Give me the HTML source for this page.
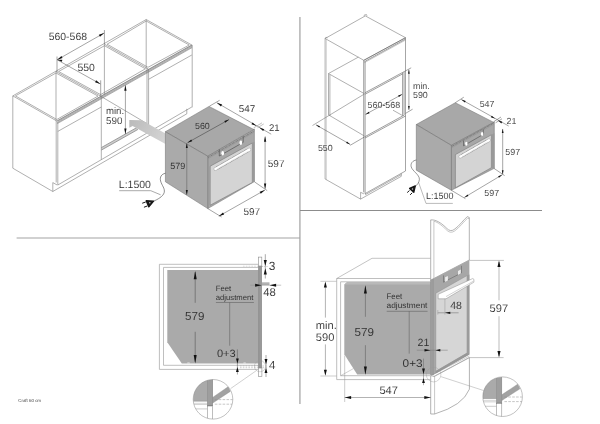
<!DOCTYPE html>
<html><head><meta charset="utf-8"><title>Oven installation</title>
<style>
html,body{margin:0;padding:0;background:#fff;}
body{width:600px;height:424px;overflow:hidden;font-family:"Liberation Sans",sans-serif;}
svg{display:block;filter:grayscale(1);}
svg text{font-family:"Liberation Sans",sans-serif;}
</style></head><body>
<svg width="600" height="424" viewBox="0 0 600 424" text-rendering="geometricPrecision">
<rect width="600" height="424" fill="#fff"/>
<line x1="299.90" y1="17.00" x2="299.90" y2="404.00" stroke="#b8b8b8" stroke-width="1.6" />
<line x1="16.60" y1="238.00" x2="300.00" y2="238.00" stroke="#a4a4a4" stroke-width="1.1" />
<line x1="300.00" y1="210.50" x2="542.00" y2="210.50" stroke="#8c8c8c" stroke-width="1.0" />
<g id="tl-cab">
<path d="M12.80,95.90 L146.20,19.50 L191.80,45.00 L56.80,121.00 Z" stroke="#7a7a7a" stroke-width="0.6" fill="none" stroke-linejoin="round" />
<path d="M15.40,95.90 L56.00,72.99 L98.00,96.10 L56.80,119.51 Z" stroke="#7a7a7a" stroke-width="0.6" fill="none" stroke-linejoin="round" />
<path d="M58.60,71.50 L104.50,45.69 L145.40,68.80 L100.60,94.61 Z" stroke="#7a7a7a" stroke-width="0.6" fill="none" stroke-linejoin="round" />
<path d="M107.10,44.20 L146.20,20.99 L189.20,45.00 L148.00,67.31 Z" stroke="#7a7a7a" stroke-width="0.6" fill="none" stroke-linejoin="round" />
<line x1="56.00" y1="71.50" x2="100.60" y2="96.10" stroke="#7a7a7a" stroke-width="0.6" />
<line x1="104.50" y1="44.20" x2="148.00" y2="68.80" stroke="#7a7a7a" stroke-width="0.6" />
<line x1="57.30" y1="121.00" x2="192.10" y2="45.00" stroke="#707070" stroke-width="0.55" />
<line x1="57.30" y1="121.90" x2="192.10" y2="45.90" stroke="#707070" stroke-width="0.55" />
<line x1="57.30" y1="122.80" x2="192.10" y2="46.80" stroke="#707070" stroke-width="0.55" />
<line x1="57.30" y1="123.60" x2="192.10" y2="47.60" stroke="#707070" stroke-width="0.55" />
<line x1="12.80" y1="95.90" x2="12.80" y2="168.20" stroke="#7a7a7a" stroke-width="0.6" />
<line x1="56.20" y1="121.00" x2="56.20" y2="182.50" stroke="#7a7a7a" stroke-width="0.6" />
<line x1="57.80" y1="122.00" x2="57.80" y2="185.00" stroke="#7a7a7a" stroke-width="0.6" />
<line x1="56.00" y1="71.50" x2="56.00" y2="121.00" stroke="#7a7a7a" stroke-width="0.6" />
<line x1="101.30" y1="96.10" x2="101.30" y2="159.60" stroke="#7a7a7a" stroke-width="0.6" />
<line x1="104.40" y1="44.00" x2="104.40" y2="94.50" stroke="#7a7a7a" stroke-width="0.6" />
<line x1="147.00" y1="68.80" x2="147.00" y2="131.00" stroke="#7a7a7a" stroke-width="0.6" />
<line x1="148.60" y1="68.80" x2="148.60" y2="131.00" stroke="#7a7a7a" stroke-width="0.6" />
<line x1="146.20" y1="19.50" x2="146.20" y2="68.80" stroke="#7a7a7a" stroke-width="0.6" />
<line x1="192.20" y1="45.00" x2="192.20" y2="107.40" stroke="#7a7a7a" stroke-width="0.6" />
<path d="M12.80,168.20 L52.80,191.50 L52.80,182.60 L57.20,185.00" stroke="#7a7a7a" stroke-width="0.6" fill="none" stroke-linejoin="round" />
<line x1="57.80" y1="131.40" x2="101.30" y2="107.00" stroke="#7a7a7a" stroke-width="0.6" />
<line x1="148.60" y1="79.30" x2="191.80" y2="55.00" stroke="#7a7a7a" stroke-width="0.6" />
<line x1="57.80" y1="185.00" x2="191.80" y2="107.00" stroke="#7a7a7a" stroke-width="0.6" />
<line x1="52.80" y1="191.50" x2="186.80" y2="113.80" stroke="#7a7a7a" stroke-width="0.6" />
<line x1="186.80" y1="108.80" x2="186.80" y2="113.80" stroke="#7a7a7a" stroke-width="0.6" />
<line x1="101.30" y1="96.60" x2="147.00" y2="123.60" stroke="#7a7a7a" stroke-width="0.6" />
<line x1="101.50" y1="147.50" x2="138.00" y2="126.90" stroke="#6c6c6c" stroke-width="0.6" />
<line x1="101.50" y1="150.00" x2="138.00" y2="129.40" stroke="#6c6c6c" stroke-width="0.6" />
<line x1="101.90" y1="147.27" x2="101.90" y2="149.77" stroke="#7a7a7a" stroke-width="0.4" />
<line x1="102.90" y1="146.71" x2="102.90" y2="149.21" stroke="#7a7a7a" stroke-width="0.4" />
<line x1="103.90" y1="146.15" x2="103.90" y2="148.65" stroke="#7a7a7a" stroke-width="0.4" />
<line x1="104.90" y1="145.58" x2="104.90" y2="148.08" stroke="#7a7a7a" stroke-width="0.4" />
<line x1="105.90" y1="145.02" x2="105.90" y2="147.52" stroke="#7a7a7a" stroke-width="0.4" />
<line x1="106.90" y1="144.45" x2="106.90" y2="146.95" stroke="#7a7a7a" stroke-width="0.4" />
<line x1="107.90" y1="143.89" x2="107.90" y2="146.39" stroke="#7a7a7a" stroke-width="0.4" />
<line x1="108.90" y1="143.33" x2="108.90" y2="145.83" stroke="#7a7a7a" stroke-width="0.4" />
<line x1="109.90" y1="142.76" x2="109.90" y2="145.26" stroke="#7a7a7a" stroke-width="0.4" />
<line x1="110.90" y1="142.20" x2="110.90" y2="144.70" stroke="#7a7a7a" stroke-width="0.4" />
<line x1="111.90" y1="141.63" x2="111.90" y2="144.13" stroke="#7a7a7a" stroke-width="0.4" />
<line x1="112.90" y1="141.07" x2="112.90" y2="143.57" stroke="#7a7a7a" stroke-width="0.4" />
<line x1="113.90" y1="140.51" x2="113.90" y2="143.01" stroke="#7a7a7a" stroke-width="0.4" />
<line x1="114.90" y1="139.94" x2="114.90" y2="142.44" stroke="#7a7a7a" stroke-width="0.4" />
<line x1="115.90" y1="139.38" x2="115.90" y2="141.88" stroke="#7a7a7a" stroke-width="0.4" />
<line x1="116.90" y1="138.81" x2="116.90" y2="141.31" stroke="#7a7a7a" stroke-width="0.4" />
<line x1="117.90" y1="138.25" x2="117.90" y2="140.75" stroke="#7a7a7a" stroke-width="0.4" />
<line x1="118.90" y1="137.69" x2="118.90" y2="140.19" stroke="#7a7a7a" stroke-width="0.4" />
<line x1="119.90" y1="137.12" x2="119.90" y2="139.62" stroke="#7a7a7a" stroke-width="0.4" />
<line x1="120.90" y1="136.56" x2="120.90" y2="139.06" stroke="#7a7a7a" stroke-width="0.4" />
<line x1="121.90" y1="135.99" x2="121.90" y2="138.49" stroke="#7a7a7a" stroke-width="0.4" />
<line x1="122.90" y1="135.43" x2="122.90" y2="137.93" stroke="#7a7a7a" stroke-width="0.4" />
<line x1="123.90" y1="134.87" x2="123.90" y2="137.37" stroke="#7a7a7a" stroke-width="0.4" />
<line x1="124.90" y1="134.30" x2="124.90" y2="136.80" stroke="#7a7a7a" stroke-width="0.4" />
<line x1="125.90" y1="133.74" x2="125.90" y2="136.24" stroke="#7a7a7a" stroke-width="0.4" />
<line x1="126.90" y1="133.17" x2="126.90" y2="135.67" stroke="#7a7a7a" stroke-width="0.4" />
<line x1="127.90" y1="132.61" x2="127.90" y2="135.11" stroke="#7a7a7a" stroke-width="0.4" />
<line x1="128.90" y1="132.05" x2="128.90" y2="134.55" stroke="#7a7a7a" stroke-width="0.4" />
<line x1="129.90" y1="131.48" x2="129.90" y2="133.98" stroke="#7a7a7a" stroke-width="0.4" />
<line x1="130.90" y1="130.92" x2="130.90" y2="133.42" stroke="#7a7a7a" stroke-width="0.4" />
<line x1="131.90" y1="130.35" x2="131.90" y2="132.85" stroke="#7a7a7a" stroke-width="0.4" />
<line x1="132.90" y1="129.79" x2="132.90" y2="132.29" stroke="#7a7a7a" stroke-width="0.4" />
<line x1="133.90" y1="129.23" x2="133.90" y2="131.73" stroke="#7a7a7a" stroke-width="0.4" />
<line x1="134.90" y1="128.66" x2="134.90" y2="131.16" stroke="#7a7a7a" stroke-width="0.4" />
<line x1="135.90" y1="128.10" x2="135.90" y2="130.60" stroke="#7a7a7a" stroke-width="0.4" />
<line x1="136.90" y1="127.53" x2="136.90" y2="130.03" stroke="#7a7a7a" stroke-width="0.4" />
</g>
<line x1="57.00" y1="56.50" x2="57.00" y2="72.00" stroke="#4a4a4a" stroke-width="0.5" />
<line x1="104.40" y1="30.00" x2="104.40" y2="44.00" stroke="#4a4a4a" stroke-width="0.5" />
<line x1="57.20" y1="59.80" x2="104.20" y2="33.00" stroke="#4a4a4a" stroke-width="0.5" />
<path d="M57.20,59.80 L61.41,56.08 L62.55,58.07 Z" fill="#111" stroke="none" stroke-width="0" stroke-linejoin="round"/>
<path d="M104.20,33.00 L99.99,36.72 L98.85,34.73 Z" fill="#111" stroke="none" stroke-width="0" stroke-linejoin="round"/>
<line x1="100.70" y1="80.30" x2="100.70" y2="96.20" stroke="#4a4a4a" stroke-width="0.5" />
<line x1="57.20" y1="59.80" x2="100.40" y2="84.00" stroke="#4a4a4a" stroke-width="0.5" />
<path d="M100.40,84.00 L95.04,82.32 L96.16,80.31 Z" fill="#111" stroke="none" stroke-width="0" stroke-linejoin="round"/>
<path d="M57.20,59.80 L62.32,59.70 L61.89,61.86 Z" fill="#111" stroke="none" stroke-width="0" stroke-linejoin="round"/>
<text x="48.70" y="39.60" font-size="10.45" text-anchor="start" fill="#2a2a2a" stroke="#fff" stroke-width="0.08" >560-568</text>
<text x="77.50" y="70.80" font-size="10.45" text-anchor="start" fill="#2a2a2a" stroke="#fff" stroke-width="0.08" >550</text>
<line x1="125.40" y1="85.20" x2="125.40" y2="134.00" stroke="#4a4a4a" stroke-width="0.5" />
<path d="M125.40,85.20 L126.55,90.70 L124.25,90.70 Z" fill="#111" stroke="none" stroke-width="0" stroke-linejoin="round"/>
<path d="M125.40,134.00 L124.25,128.50 L126.55,128.50 Z" fill="#111" stroke="none" stroke-width="0" stroke-linejoin="round"/>
<text x="106.00" y="114.40" font-size="9.6" text-anchor="start" fill="#2a2a2a" stroke="#fff" stroke-width="0.08" >min.</text>
<text x="106.00" y="123.80" font-size="9.8" text-anchor="start" fill="#2a2a2a" stroke="#fff" stroke-width="0.08" >590</text>
<defs><linearGradient id="ag" gradientUnits="userSpaceOnUse" x1="129" y1="120" x2="165" y2="140"><stop offset="0" stop-color="#bababa"/><stop offset="1" stop-color="#d4d4d4"/></linearGradient></defs>
<path d="M129.30,119.90 L141.60,120.30 L165.50,133.40 L165.50,143.90 L132.60,126.10 L129.30,127.80 Z" fill="url(#ag)" stroke="none" stroke-width="0" stroke-linejoin="round"/>
<path d="M165.40,131.70 L209.00,106.40 L253.40,129.30 L207.80,156.20 Z" fill="#a8a8a9" stroke="none" stroke-width="0" stroke-linejoin="round"/>
<path d="M165.40,131.70 L207.80,156.20 L207.80,208.60 L165.40,181.80 Z" fill="#aaaaab" stroke="none" stroke-width="0" stroke-linejoin="round"/>
<path d="M207.80,156.20 L254.40,129.00 L254.40,181.60 L207.80,208.60 Z" fill="#a7a7a7" stroke="none" stroke-width="0" stroke-linejoin="round"/>
<path d="M165.40,131.70 L209.00,106.40 L253.40,129.30" stroke="#6a6a6a" stroke-width="0.5" fill="none" stroke-linejoin="round" />
<path d="M165.40,131.70 L207.80,156.20 L254.40,129.00" stroke="#5e5e5e" stroke-width="0.6" fill="none" stroke-linejoin="round" />
<line x1="207.80" y1="156.20" x2="207.80" y2="208.60" stroke="#5e5e5e" stroke-width="0.6" />
<path d="M165.40,131.50 L165.40,181.80 L207.80,208.60 L254.40,181.60 L254.40,129.00" stroke="#6a6a6a" stroke-width="0.5" fill="none" stroke-linejoin="round" />
<line x1="208.20" y1="157.40" x2="254.20" y2="131.00" stroke="#666" stroke-width="0.9" stroke-dasharray="0.9,0.7"/>
<line x1="208.20" y1="158.60" x2="254.20" y2="132.20" stroke="#888" stroke-width="0.4" />
<path d="M219.30,149.40 L219.30,156.00 L243.20,142.40 L243.20,136.20" stroke="#555" stroke-width="0.7" fill="none" stroke-linejoin="round" />
<ellipse cx="222.7" cy="153.3" rx="1.35" ry="2.2" fill="#fff"/>
<ellipse cx="240.8" cy="142.8" rx="1.35" ry="2.2" fill="#fff"/>
<path d="M210.20,166.20 L252.30,143.00 L252.30,182.50 L210.20,205.20 Z" fill="#d4d4d4" stroke="#777" stroke-width="0.6" stroke-linejoin="round"/>
<path d="M215.40,169.00 L249.30,149.60" stroke="#b4b4b4" stroke-width="3.7" fill="none" stroke-linejoin="round" stroke-linecap="round"/>
<path d="M217.00,168.10 L247.70,150.50" stroke="#808080" stroke-width="3.5" fill="none" stroke-linejoin="round" stroke-dasharray="0.7,0.7"/>
<path d="M215.40,169.00 L249.30,149.60" stroke="#fff" stroke-width="2.5" fill="none" stroke-linejoin="round" stroke-linecap="round"/>
<path d="M252.30,143.00 L254.40,141.80 L254.40,181.60 L252.30,182.50 Z" fill="#999" stroke="none" stroke-width="0" stroke-linejoin="round"/>
<path d="M217.60,168.60 L247.40,151.60" stroke="#b5b5b5" stroke-width="0.5" fill="none" stroke-linejoin="round" stroke-dasharray="0.7,0.7"/>
<line x1="187.50" y1="142.70" x2="229.00" y2="119.60" stroke="#333" stroke-width="0.5" />
<path d="M187.50,142.70 L191.20,139.48 L192.18,141.23 Z" fill="#111" stroke="none" stroke-width="0" stroke-linejoin="round"/>
<path d="M229.00,119.60 L225.30,122.82 L224.32,121.07 Z" fill="#111" stroke="none" stroke-width="0" stroke-linejoin="round"/>
<line x1="186.80" y1="143.30" x2="186.80" y2="194.90" stroke="#444" stroke-width="0.4" />
<path d="M186.80,143.30 L187.80,148.10 L185.80,148.10 Z" fill="#111" stroke="none" stroke-width="0" stroke-linejoin="round"/>
<path d="M186.80,194.90 L185.80,190.10 L187.80,190.10 Z" fill="#111" stroke="none" stroke-width="0" stroke-linejoin="round"/>
<text x="195.00" y="129.30" font-size="8.9" text-anchor="start" fill="#2a2a2a" stroke="#a8a8a9" stroke-width="0.08" >560</text>
<text x="170.30" y="169.20" font-size="9.0" text-anchor="start" fill="#2a2a2a" stroke="#aaaaab" stroke-width="0.08" >579</text>
<line x1="209.40" y1="106.20" x2="219.60" y2="100.30" stroke="#4a4a4a" stroke-width="0.5" />
<line x1="216.80" y1="102.70" x2="271.20" y2="134.20" stroke="#4a4a4a" stroke-width="0.5" />
<path d="M216.80,102.70 L222.13,104.46 L220.98,106.45 Z" fill="#111" stroke="none" stroke-width="0" stroke-linejoin="round"/>
<path d="M256.50,126.00 L251.45,124.34 L252.55,122.44 Z" fill="#111" stroke="none" stroke-width="0" stroke-linejoin="round"/>
<path d="M259.20,127.50 L264.25,129.16 L263.15,131.06 Z" fill="#111" stroke="none" stroke-width="0" stroke-linejoin="round"/>
<line x1="253.50" y1="128.00" x2="262.00" y2="122.80" stroke="#777" stroke-width="0.45" />
<line x1="257.50" y1="127.80" x2="263.80" y2="123.90" stroke="#777" stroke-width="0.45" />
<text x="238.70" y="111.50" font-size="9.9" text-anchor="start" fill="#2a2a2a" stroke="#fff" stroke-width="0.08" >547</text>
<text x="269.00" y="131.20" font-size="9.6" text-anchor="start" fill="#2a2a2a" stroke="#fff" stroke-width="0.08" >21</text>
<line x1="265.10" y1="136.60" x2="265.10" y2="188.60" stroke="#4a4a4a" stroke-width="0.5" />
<path d="M265.10,136.20 L266.25,141.70 L263.95,141.70 Z" fill="#111" stroke="none" stroke-width="0" stroke-linejoin="round"/>
<path d="M265.10,189.00 L263.95,183.50 L266.25,183.50 Z" fill="#111" stroke="none" stroke-width="0" stroke-linejoin="round"/>
<line x1="254.40" y1="181.80" x2="267.20" y2="190.60" stroke="#4a4a4a" stroke-width="0.5" />
<text x="267.80" y="166.90" font-size="10.0" text-anchor="start" fill="#2a2a2a" stroke="#fff" stroke-width="0.08" >597</text>
<line x1="207.80" y1="208.60" x2="221.60" y2="217.00" stroke="#4a4a4a" stroke-width="0.5" />
<line x1="218.80" y1="216.20" x2="265.00" y2="190.00" stroke="#4a4a4a" stroke-width="0.5" />
<path d="M218.80,216.20 L223.02,212.49 L224.15,214.49 Z" fill="#111" stroke="none" stroke-width="0" stroke-linejoin="round"/>
<path d="M265.00,190.00 L260.78,193.71 L259.65,191.71 Z" fill="#111" stroke="none" stroke-width="0" stroke-linejoin="round"/>
<text x="243.40" y="214.80" font-size="10.0" text-anchor="start" fill="#2a2a2a" stroke="#fff" stroke-width="0.08" >597</text>
<path d="M165.4,173.3 C161.5,174 159.6,177 160.6,181 C161.8,185.5 165.2,188.5 164.2,192.5 C163.2,196.5 157.5,199.5 153.5,201.2" fill="none" stroke="#333" stroke-width="0.55"/>
<path d="M153.60,201.20 L146.20,200.70 L148.80,206.90 Z" stroke="#151515" stroke-width="1.3" fill="#151515" stroke-linejoin="round" />
<line x1="145.40" y1="202.10" x2="142.60" y2="203.10" stroke="#151515" stroke-width="1.0" stroke-linecap="round"/>
<line x1="147.00" y1="206.10" x2="144.30" y2="207.10" stroke="#151515" stroke-width="1.0" stroke-linecap="round"/>
<circle cx="149.8" cy="202.8" r="0.75" fill="#ccc"/>
<text x="118.80" y="188.30" font-size="10.5" text-anchor="start" fill="#2a2a2a" stroke="#fff" stroke-width="0.08" >L:1500</text>
<path d="M119.20,190.70 L150.80,190.70 L160.60,194.80" stroke="#555" stroke-width="0.5" fill="none" stroke-linejoin="round" />
<g id="tr-cab">
<path d="M325.10,38.50 L365.30,15.90 L405.50,37.70 L363.80,60.30 Z" stroke="#7a7a7a" stroke-width="0.6" fill="none" stroke-linejoin="round" />
<path d="M325.00,38.60 L325.90,37.20 L327.60,37.90" stroke="#7a7a7a" stroke-width="0.5" fill="none" stroke-linejoin="round" />
<path d="M364.00,16.20 L364.50,14.80 L366.50,14.50 L367.00,16.00" stroke="#7a7a7a" stroke-width="0.5" fill="none" stroke-linejoin="round" />
<line x1="363.80" y1="60.30" x2="405.50" y2="37.70" stroke="#5e5e5e" stroke-width="0.6" />
<line x1="364.40" y1="61.70" x2="405.50" y2="39.10" stroke="#5e5e5e" stroke-width="0.6" />
<line x1="364.40" y1="62.70" x2="405.50" y2="40.10" stroke="#7a7a7a" stroke-width="0.4" />
<line x1="325.10" y1="38.50" x2="325.10" y2="179.00" stroke="#7a7a7a" stroke-width="0.6" />
<line x1="326.40" y1="39.30" x2="326.40" y2="179.80" stroke="#999" stroke-width="0.4" />
<line x1="363.70" y1="60.30" x2="363.70" y2="192.30" stroke="#5e5e5e" stroke-width="0.6" />
<line x1="365.10" y1="61.50" x2="365.10" y2="193.90" stroke="#5e5e5e" stroke-width="0.6" />
<line x1="405.50" y1="37.70" x2="405.50" y2="171.00" stroke="#6a6a6a" stroke-width="0.6" />
<line x1="328.20" y1="73.70" x2="358.40" y2="57.10" stroke="#7a7a7a" stroke-width="0.6" />
<line x1="328.50" y1="73.60" x2="328.50" y2="115.30" stroke="#7a7a7a" stroke-width="0.6" />
<line x1="329.90" y1="74.50" x2="329.90" y2="116.00" stroke="#7a7a7a" stroke-width="0.6" />
<line x1="328.90" y1="73.80" x2="364.40" y2="93.70" stroke="#7a7a7a" stroke-width="0.6" />
<line x1="328.90" y1="115.10" x2="364.40" y2="136.00" stroke="#7a7a7a" stroke-width="0.6" />
<line x1="312.50" y1="125.50" x2="364.40" y2="94.00" stroke="#7a7a7a" stroke-width="0.6" />
<line x1="365.10" y1="92.70" x2="405.50" y2="70.90" stroke="#5e5e5e" stroke-width="0.6" />
<line x1="365.10" y1="94.20" x2="402.60" y2="73.90" stroke="#5e5e5e" stroke-width="0.6" />
<line x1="402.60" y1="73.00" x2="402.60" y2="115.60" stroke="#5e5e5e" stroke-width="0.6" />
<line x1="404.10" y1="72.00" x2="404.10" y2="114.80" stroke="#5e5e5e" stroke-width="0.6" />
<line x1="365.10" y1="136.60" x2="404.40" y2="115.00" stroke="#5e5e5e" stroke-width="0.6" />
<line x1="365.10" y1="138.00" x2="405.50" y2="116.00" stroke="#5e5e5e" stroke-width="0.6" />
<line x1="402.60" y1="115.60" x2="393.00" y2="110.20" stroke="#7a7a7a" stroke-width="0.6" />
<path d="M325.10,179.00 L360.60,199.10 L360.60,192.30 L363.90,193.90" stroke="#7a7a7a" stroke-width="0.6" fill="none" stroke-linejoin="round" />
<line x1="365.10" y1="193.60" x2="405.50" y2="171.00" stroke="#6a6a6a" stroke-width="0.6" />
<line x1="365.10" y1="194.80" x2="401.30" y2="174.60" stroke="#7a7a7a" stroke-width="0.6" />
<path d="M360.60,199.10 L401.30,176.30 L401.30,173.40" stroke="#7a7a7a" stroke-width="0.6" fill="none" stroke-linejoin="round" />
</g>
<line x1="365.50" y1="114.40" x2="402.20" y2="94.30" stroke="#4a4a4a" stroke-width="0.5" />
<path d="M365.50,114.40 L368.78,111.64 L369.59,113.13 Z" fill="#111" stroke="none" stroke-width="0" stroke-linejoin="round"/>
<path d="M402.20,94.30 L398.92,97.06 L398.11,95.57 Z" fill="#111" stroke="none" stroke-width="0" stroke-linejoin="round"/>
<text x="367.60" y="107.70" font-size="8.9" text-anchor="start" fill="#2a2a2a" stroke="#fff" stroke-width="0.08" >560-568</text>
<line x1="350.20" y1="145.30" x2="364.40" y2="137.00" stroke="#4a4a4a" stroke-width="0.5" />
<line x1="315.90" y1="124.80" x2="350.20" y2="144.40" stroke="#4a4a4a" stroke-width="0.5" />
<path d="M315.90,124.80 L319.97,126.15 L319.12,127.62 Z" fill="#111" stroke="none" stroke-width="0" stroke-linejoin="round"/>
<path d="M350.20,144.40 L346.13,143.05 L346.98,141.58 Z" fill="#111" stroke="none" stroke-width="0" stroke-linejoin="round"/>
<text x="317.90" y="151.20" font-size="8.9" text-anchor="start" fill="#2a2a2a" stroke="#fff" stroke-width="0.08" >550</text>
<line x1="408.90" y1="69.70" x2="408.90" y2="109.90" stroke="#4a4a4a" stroke-width="0.5" />
<path d="M408.90,69.50 L409.75,73.70 L408.05,73.70 Z" fill="#111" stroke="none" stroke-width="0" stroke-linejoin="round"/>
<path d="M408.90,110.10 L408.05,105.90 L409.75,105.90 Z" fill="#111" stroke="none" stroke-width="0" stroke-linejoin="round"/>
<line x1="405.50" y1="70.90" x2="411.20" y2="67.80" stroke="#4a4a4a" stroke-width="0.5" />
<line x1="405.50" y1="113.40" x2="412.60" y2="109.20" stroke="#4a4a4a" stroke-width="0.5" />
<text x="413.00" y="89.20" font-size="8.9" text-anchor="start" fill="#2a2a2a" stroke="#fff" stroke-width="0.08" >min.</text>
<text x="413.00" y="98.10" font-size="8.9" text-anchor="start" fill="#2a2a2a" stroke="#fff" stroke-width="0.08" >590</text>
<path d="M416.30,124.50 L455.30,102.70 L493.40,122.20 L451.40,145.30 Z" fill="#a8a8a9" stroke="none" stroke-width="0" stroke-linejoin="round"/>
<path d="M416.30,124.50 L451.40,145.30 L451.40,190.30 L416.30,170.20 Z" fill="#aaaaab" stroke="none" stroke-width="0" stroke-linejoin="round"/>
<path d="M451.40,145.30 L494.30,121.90 L494.30,168.30 L451.40,190.30 Z" fill="#a7a7a7" stroke="none" stroke-width="0" stroke-linejoin="round"/>
<path d="M416.30,124.50 L455.30,102.70 L493.40,122.20" stroke="#6a6a6a" stroke-width="0.5" fill="none" stroke-linejoin="round" />
<path d="M416.30,124.50 L451.40,145.30 L494.30,121.90" stroke="#5e5e5e" stroke-width="0.6" fill="none" stroke-linejoin="round" />
<line x1="451.40" y1="145.30" x2="451.40" y2="190.30" stroke="#5e5e5e" stroke-width="0.6" />
<path d="M416.30,124.50 L416.30,170.20 L451.40,190.30 L494.30,168.30 L494.30,121.90" stroke="#6a6a6a" stroke-width="0.5" fill="none" stroke-linejoin="round" />
<line x1="451.90" y1="146.40" x2="494.00" y2="122.90" stroke="#666" stroke-width="0.9" stroke-dasharray="0.9,0.7"/>
<line x1="451.90" y1="147.60" x2="494.00" y2="124.20" stroke="#888" stroke-width="0.4" />
<path d="M463.50,140.60 L463.50,145.80 L483.30,134.40 L483.30,129.30" stroke="#555" stroke-width="0.65" fill="none" stroke-linejoin="round" />
<ellipse cx="466.3" cy="143.7" rx="1.2" ry="2.0" fill="#fff"/>
<ellipse cx="482.1" cy="133.9" rx="1.2" ry="2.0" fill="#fff"/>
<path d="M455.40,154.60 L491.40,134.80 L491.40,167.70 L455.40,187.80 Z" fill="#d4d4d4" stroke="#777" stroke-width="0.6" stroke-linejoin="round"/>
<path d="M460.20,156.70 L489.00,140.20" stroke="#b4b4b4" stroke-width="3.4" fill="none" stroke-linejoin="round" stroke-linecap="round"/>
<path d="M461.80,155.80 L487.40,141.10" stroke="#808080" stroke-width="3.2" fill="none" stroke-linejoin="round" stroke-dasharray="0.7,0.7"/>
<path d="M460.20,156.70 L489.00,140.20" stroke="#fff" stroke-width="2.2" fill="none" stroke-linejoin="round" stroke-linecap="round"/>
<path d="M491.40,134.80 L494.30,133.20 L494.30,168.30 L491.40,167.70 Z" fill="#999" stroke="none" stroke-width="0" stroke-linejoin="round"/>
<path d="M462.40,156.30 L487.20,142.00" stroke="#b5b5b5" stroke-width="0.5" fill="none" stroke-linejoin="round" stroke-dasharray="0.7,0.7"/>
<line x1="455.30" y1="102.70" x2="463.80" y2="97.20" stroke="#4a4a4a" stroke-width="0.5" />
<line x1="461.30" y1="99.50" x2="508.70" y2="126.00" stroke="#4a4a4a" stroke-width="0.5" />
<path d="M461.30,99.50 L465.77,100.95 L464.83,102.60 Z" fill="#111" stroke="none" stroke-width="0" stroke-linejoin="round"/>
<path d="M495.30,118.80 L490.83,117.35 L491.77,115.70 Z" fill="#111" stroke="none" stroke-width="0" stroke-linejoin="round"/>
<path d="M497.80,120.30 L502.27,121.75 L501.33,123.40 Z" fill="#111" stroke="none" stroke-width="0" stroke-linejoin="round"/>
<line x1="493.60" y1="121.80" x2="501.00" y2="117.00" stroke="#4a4a4a" stroke-width="0.5" />
<line x1="495.60" y1="122.80" x2="502.00" y2="118.80" stroke="#4a4a4a" stroke-width="0.5" />
<text x="479.70" y="106.60" font-size="8.9" text-anchor="start" fill="#2a2a2a" stroke="#fff" stroke-width="0.08" >547</text>
<text x="506.50" y="124.10" font-size="8.9" text-anchor="start" fill="#2a2a2a" stroke="#fff" stroke-width="0.08" >21</text>
<line x1="502.70" y1="129.00" x2="502.70" y2="174.30" stroke="#4a4a4a" stroke-width="0.5" />
<path d="M502.70,128.80 L503.55,133.00 L501.85,133.00 Z" fill="#111" stroke="none" stroke-width="0" stroke-linejoin="round"/>
<path d="M502.70,174.50 L501.85,170.30 L503.55,170.30 Z" fill="#111" stroke="none" stroke-width="0" stroke-linejoin="round"/>
<text x="505.30" y="154.80" font-size="8.9" text-anchor="start" fill="#2a2a2a" stroke="#fff" stroke-width="0.08" >597</text>
<line x1="494.00" y1="168.40" x2="504.60" y2="175.60" stroke="#4a4a4a" stroke-width="0.5" />
<line x1="451.40" y1="190.30" x2="465.40" y2="198.70" stroke="#4a4a4a" stroke-width="0.5" />
<line x1="464.40" y1="197.40" x2="502.20" y2="174.80" stroke="#4a4a4a" stroke-width="0.5" />
<path d="M464.40,197.40 L467.57,194.52 L468.44,195.97 Z" fill="#111" stroke="none" stroke-width="0" stroke-linejoin="round"/>
<path d="M502.20,174.80 L499.03,177.68 L498.16,176.23 Z" fill="#111" stroke="none" stroke-width="0" stroke-linejoin="round"/>
<text x="484.30" y="196.40" font-size="8.9" text-anchor="start" fill="#2a2a2a" stroke="#fff" stroke-width="0.08" >597</text>
<path d="M416.3,160.0 C412.8,160.6 410.3,163.2 411.2,166.8 C412.4,171.2 419.6,174.6 419.4,179.4 C419.2,182.6 417,185 415.2,186.6" fill="none" stroke="#333" stroke-width="0.5"/>
<path d="M415.30,185.80 L409.60,188.40 L413.80,192.30 Z" stroke="#151515" stroke-width="1.3" fill="#151515" stroke-linejoin="round" />
<line x1="409.20" y1="190.80" x2="407.50" y2="192.30" stroke="#151515" stroke-width="1.0" stroke-linecap="round"/>
<line x1="411.90" y1="193.10" x2="410.40" y2="194.60" stroke="#151515" stroke-width="1.0" stroke-linecap="round"/>
<circle cx="412.5" cy="189.0" r="0.75" fill="#ccc"/>
<text x="426.00" y="199.40" font-size="9.0" text-anchor="start" fill="#2a2a2a" stroke="#fff" stroke-width="0.08" >L:1500</text>
<path d="M418.40,181.90 L426.00,203.40 L452.80,203.40" stroke="#777" stroke-width="0.5" fill="none" stroke-linejoin="round" />
<path d="M258.50,264.30 L159.40,264.30 L159.40,369.40 L258.40,369.40" stroke="#a4a4a4" stroke-width="0.7" fill="none" stroke-linejoin="round" />
<path d="M258.50,267.40 L163.50,267.40 L163.50,365.30 L258.40,365.30" stroke="#a4a4a4" stroke-width="0.7" fill="none" stroke-linejoin="round" />
<path d="M167.30,270.10 L258.60,270.10 L258.60,363.60 L181.80,363.60 L167.30,342.20 Z" fill="#aaaaab" stroke="none" stroke-width="0" stroke-linejoin="round"/>
<path d="M186.90,363.60 L187.50,362.60 L189.50,362.60 L190.10,363.60 Z" fill="#e8e8e8" stroke="none" stroke-width="0" stroke-linejoin="round"/>
<path d="M243.00,363.60 L243.60,362.60 L245.60,362.60 L246.20,363.60 Z" fill="#e8e8e8" stroke="none" stroke-width="0" stroke-linejoin="round"/>
<rect x="258.5" y="266.0" width="3.5" height="102.0" fill="#999"/>
<rect x="258.4" y="266.0" width="0.7" height="102.0" fill="#808080"/>
<rect x="258.6" y="257.1" width="3.2" height="8.9" fill="#fff" stroke="#8a8a8a" stroke-width="0.6"/>
<rect x="258.6" y="368.0" width="3.3" height="8.6" fill="#fff" stroke="#8a8a8a" stroke-width="0.6"/>
<rect x="262.0" y="282.3" width="7.5" height="2.9" fill="#b2b2b2"/>
<line x1="243.00" y1="266.20" x2="258.00" y2="266.20" stroke="#bbb" stroke-width="0.5" stroke-dasharray="1.6,1.2"/>
<line x1="195.20" y1="272.00" x2="195.20" y2="302.80" stroke="#444" stroke-width="0.5" />
<line x1="195.20" y1="331.80" x2="195.20" y2="362.00" stroke="#444" stroke-width="0.5" />
<path d="M195.20,270.90 L196.70,279.20 L193.70,279.20 Z" fill="#111" stroke="none" stroke-width="0" stroke-linejoin="round"/>
<path d="M195.20,363.40 L193.70,355.10 L196.70,355.10 Z" fill="#111" stroke="none" stroke-width="0" stroke-linejoin="round"/>
<text x="185.00" y="319.70" font-size="11.6" text-anchor="start" fill="#2a2a2a" stroke="#aaaaab" stroke-width="0.08" >579</text>
<text x="215.80" y="291.20" font-size="7.7" text-anchor="start" fill="#2a2a2a" stroke="#aaaaab" stroke-width="0.05" >Feet</text>
<text x="215.80" y="299.90" font-size="7.7" text-anchor="start" fill="#2a2a2a" stroke="#aaaaab" stroke-width="0.05" >adjustment</text>
<line x1="215.90" y1="302.50" x2="253.90" y2="302.50" stroke="#555" stroke-width="0.5" />
<line x1="229.70" y1="302.50" x2="229.70" y2="345.70" stroke="#555" stroke-width="0.5" />
<text x="216.90" y="357.10" font-size="10.6" text-anchor="start" fill="#2a2a2a" stroke="#aaaaab" stroke-width="0.08" textLength="18.8" lengthAdjust="spacingAndGlyphs">0+3</text>
<line x1="237.40" y1="349.40" x2="237.40" y2="374.50" stroke="#555" stroke-width="0.5" />
<path d="M237.40,363.60 L236.00,358.40 L238.80,358.40 Z" fill="#111" stroke="none" stroke-width="0" stroke-linejoin="round"/>
<path d="M237.40,367.00 L238.80,372.00 L236.00,372.00 Z" fill="#111" stroke="none" stroke-width="0" stroke-linejoin="round"/>
<line x1="265.30" y1="254.20" x2="265.30" y2="278.50" stroke="#555" stroke-width="0.5" />
<path d="M265.30,265.90 L263.75,259.90 L266.85,259.90 Z" fill="#111" stroke="none" stroke-width="0" stroke-linejoin="round"/>
<path d="M265.30,268.20 L266.85,274.40 L263.75,274.40 Z" fill="#111" stroke="none" stroke-width="0" stroke-linejoin="round"/>
<line x1="262.00" y1="266.50" x2="268.70" y2="266.50" stroke="#999" stroke-width="0.5" stroke-dasharray="1.2,1"/>
<text x="268.80" y="269.70" font-size="11.9" text-anchor="start" fill="#2a2a2a" stroke="#fff" stroke-width="0.08" >3</text>
<line x1="250.30" y1="285.20" x2="281.20" y2="285.20" stroke="#888" stroke-width="0.5" />
<path d="M261.60,285.20 L255.10,286.75 L255.10,283.65 Z" fill="#111" stroke="none" stroke-width="0" stroke-linejoin="round"/>
<path d="M269.60,285.20 L276.10,283.65 L276.10,286.75 Z" fill="#111" stroke="none" stroke-width="0" stroke-linejoin="round"/>
<text x="263.20" y="295.60" font-size="11.3" text-anchor="start" fill="#2a2a2a" stroke="#fff" stroke-width="0.08" >48</text>
<line x1="266.00" y1="355.00" x2="266.00" y2="377.00" stroke="#555" stroke-width="0.5" />
<path d="M266.00,364.40 L264.55,359.00 L267.45,359.00 Z" fill="#111" stroke="none" stroke-width="0" stroke-linejoin="round"/>
<path d="M266.00,368.00 L267.45,373.00 L264.55,373.00 Z" fill="#111" stroke="none" stroke-width="0" stroke-linejoin="round"/>
<text x="269.00" y="369.30" font-size="11.6" text-anchor="start" fill="#2a2a2a" stroke="#fff" stroke-width="0.08" >4</text>
<line x1="240.00" y1="366.00" x2="268.00" y2="366.00" stroke="#888" stroke-width="0.4" stroke-dasharray="1.6,1.2"/>
<line x1="240.00" y1="367.70" x2="268.00" y2="367.70" stroke="#888" stroke-width="0.4" stroke-dasharray="1.6,1.2"/>
<circle cx="260.0" cy="366.2" r="5.6" fill="none" stroke="#999" stroke-width="0.4"/>
<line x1="256.40" y1="370.60" x2="230.60" y2="388.60" stroke="#888" stroke-width="0.4" />
<clipPath id="c1"><circle cx="213.0" cy="399.3" r="19.8"/></clipPath>
<g clip-path="url(#c1)">
<rect x="193.2" y="379.5" width="39.6" height="39.6" fill="#fff"/>
<rect x="193.2" y="379.5" width="14.3" height="21.7" fill="#aaaaab"/>
<line x1="193.20" y1="401.20" x2="207.50" y2="401.20" stroke="#8a8a8a" stroke-width="0.5" />
<line x1="193.20" y1="403.30" x2="207.50" y2="403.30" stroke="#aaa" stroke-width="0.5" />
<line x1="193.20" y1="404.50" x2="207.50" y2="404.50" stroke="#aaa" stroke-width="0.5" />
<line x1="193.20" y1="408.90" x2="207.50" y2="408.90" stroke="#999" stroke-width="0.5" />
<path d="M212.70,397.40 L228.10,386.80 L230.30,391.40 L212.70,403.10 Z" fill="#a2a2a2" stroke="#8a8a8a" stroke-width="0.4" stroke-linejoin="round"/>
<rect x="207.4" y="378.5" width="5.3" height="27.4" fill="#9e9e9e" stroke="#7c7c7c" stroke-width="0.5"/>
<rect x="207.4" y="405.1" width="5.3" height="0.9" fill="#8a8a8a"/>
<rect x="207.4" y="406.0" width="5.3" height="19.8" fill="#fff" stroke="#7c7c7c" stroke-width="0.5"/>
<line x1="214.80" y1="399.60" x2="232.80" y2="399.60" stroke="#8c8c8c" stroke-width="0.5" stroke-dasharray="2.6,1.3"/>
<line x1="214.80" y1="404.20" x2="232.80" y2="404.20" stroke="#8c8c8c" stroke-width="0.5" stroke-dasharray="2.6,1.3"/>
</g>
<circle cx="213.0" cy="399.3" r="19.8" fill="none" stroke="#858585" stroke-width="0.5"/>
<text x="18.30" y="401.50" font-size="4.4" text-anchor="start" fill="#444" stroke="#fff" stroke-width="0" >Craft 60 cm</text>
<path d="M430.60,278.50 L336.70,278.50 L336.70,379.60 L430.60,379.60" stroke="#a4a4a4" stroke-width="0.7" fill="none" stroke-linejoin="round" />
<path d="M430.60,281.80 L340.60,281.80 L340.60,375.70 L430.60,375.70" stroke="#a4a4a4" stroke-width="0.7" fill="none" stroke-linejoin="round" />
<path d="M336.70,278.50 L372.00,258.30 L430.60,258.30" stroke="#888" stroke-width="0.5" fill="none" stroke-linejoin="round" />
<line x1="340.70" y1="375.70" x2="353.60" y2="368.50" stroke="#888" stroke-width="0.4" />
<path d="M344.30,284.40 L347.20,281.90 L430.80,281.90 L430.80,374.60 L357.20,374.60 L344.30,354.20 Z" fill="#aaaaab" stroke="none" stroke-width="0" stroke-linejoin="round"/>
<path d="M344.30,284.40 L347.20,281.90 L430.80,281.90 L430.80,284.40 Z" fill="#b9b9b9" stroke="none" stroke-width="0" stroke-linejoin="round"/>
<path d="M430.7,280.2 L430.7,219.9 C436,219.3 442,223.5 447,228.6 C449.2,230.8 451.6,231.2 454,229.6 C459.5,226 463.5,219.6 467.4,216.6 L469.3,217.5 L469.3,260.0 Z" fill="#fff" stroke="#808080" stroke-width="0.6" stroke-linejoin="round"/>
<path d="M433.9,221.2 C438,222.2 442.6,226 447.2,230.6 C449.4,232.6 452,232.8 454.6,231 C460,227.2 464,221.2 467.6,218.2 L469.3,218.8" fill="none" stroke="#909090" stroke-width="0.5"/>
<line x1="433.90" y1="221.20" x2="433.90" y2="278.60" stroke="#909090" stroke-width="0.5" />
<path d="M430.80,280.00 L469.40,260.00 L469.40,354.60 L435.60,373.60 L433.00,375.00 L430.80,375.00 Z" fill="#a7a7a7" stroke="none" stroke-width="0" stroke-linejoin="round"/>
<path d="M430.60,280.10 L433.20,278.80 L433.20,374.90 L430.60,374.90 Z" fill="#a0a0a0" stroke="none" stroke-width="0" stroke-linejoin="round"/>
<line x1="430.70" y1="280.00" x2="430.70" y2="374.90" stroke="#808080" stroke-width="0.5" />
<line x1="433.20" y1="278.80" x2="433.20" y2="374.90" stroke="#8a8a8a" stroke-width="0.5" />
<path d="M443.50,275.40 L443.50,282.20 L461.50,272.90 L461.50,265.80" stroke="#666" stroke-width="0.6" fill="none" stroke-linejoin="round" />
<path d="M445.10,277.30 L447.90,275.90 L447.90,280.50 L445.10,281.90 Z" fill="#ececec" stroke="none" stroke-width="0" stroke-linejoin="round"/>
<path d="M458.00,270.90 L460.80,269.50 L460.80,273.60 L458.00,275.00 Z" fill="#ececec" stroke="none" stroke-width="0" stroke-linejoin="round"/>
<path d="M435.80,293.20 L467.00,275.60 L467.00,353.10 L435.80,371.20 Z" fill="#d6d6d6" stroke="#8c8c8c" stroke-width="0.5" stroke-linejoin="round"/>
<path d="M467.00,275.60 L469.40,274.40 L469.40,354.40 L467.00,353.10 Z" fill="#9c9c9c" stroke="none" stroke-width="0" stroke-linejoin="round"/>
<path d="M435.60,371.30 L467.00,353.10 L469.40,354.40 L435.60,373.60 Z" fill="#979797" stroke="none" stroke-width="0" stroke-linejoin="round"/>
<path d="M438.20,294.30 L472.80,278.50 L473.90,279.30 L473.90,282.20 L446.00,298.80 L438.20,298.80 Z" fill="#fff" stroke="#8a8a8a" stroke-width="0.5" stroke-linejoin="round"/>
<line x1="446.00" y1="296.60" x2="473.40" y2="281.20" stroke="#999" stroke-width="1.0" stroke-dasharray="0.5,0.7"/>
<path d="M430.7,375.6 L434.4,376.4 L469.4,357.6 L469.4,389.2 Q463,405.5 434.6,414.0 L430.7,414.0 Z" fill="#fff" stroke="#808080" stroke-width="0.6" stroke-linejoin="round"/>
<line x1="434.60" y1="376.20" x2="434.60" y2="414.00" stroke="#909090" stroke-width="0.5" />
<line x1="431.20" y1="375.50" x2="469.40" y2="355.90" stroke="#888" stroke-width="0.4" />
<line x1="433.40" y1="376.60" x2="469.40" y2="357.30" stroke="#999" stroke-width="0.4" />
<line x1="469.40" y1="260.40" x2="503.90" y2="260.40" stroke="#888" stroke-width="0.5" />
<line x1="469.40" y1="357.60" x2="503.60" y2="357.60" stroke="#888" stroke-width="0.5" />
<line x1="499.00" y1="262.00" x2="499.00" y2="300.30" stroke="#777" stroke-width="0.5" />
<line x1="499.00" y1="316.20" x2="499.00" y2="356.00" stroke="#777" stroke-width="0.5" />
<path d="M499.00,260.50 L500.55,266.90 L497.45,266.90 Z" fill="#111" stroke="none" stroke-width="0" stroke-linejoin="round"/>
<path d="M499.00,357.50 L497.45,351.10 L500.55,351.10 Z" fill="#111" stroke="none" stroke-width="0" stroke-linejoin="round"/>
<text x="489.60" y="312.30" font-size="11.1" text-anchor="start" fill="#2a2a2a" stroke="#fff" stroke-width="0.08" >597</text>
<line x1="344.70" y1="355.50" x2="344.70" y2="402.00" stroke="#999" stroke-width="0.5" />
<line x1="344.70" y1="397.50" x2="430.70" y2="397.50" stroke="#666" stroke-width="0.5" />
<path d="M344.70,397.50 L351.10,396.10 L351.10,398.90 Z" fill="#111" stroke="none" stroke-width="0" stroke-linejoin="round"/>
<path d="M430.70,397.50 L424.30,398.90 L424.30,396.10 Z" fill="#111" stroke="none" stroke-width="0" stroke-linejoin="round"/>
<text x="379.40" y="394.40" font-size="11.1" text-anchor="start" fill="#2a2a2a" stroke="#fff" stroke-width="0.08" >547</text>
<line x1="320.40" y1="281.30" x2="336.50" y2="281.30" stroke="#999" stroke-width="0.5" />
<line x1="320.40" y1="376.00" x2="336.70" y2="376.00" stroke="#999" stroke-width="0.5" />
<line x1="325.40" y1="283.00" x2="325.40" y2="317.60" stroke="#666" stroke-width="0.5" />
<line x1="325.40" y1="344.40" x2="325.40" y2="374.50" stroke="#666" stroke-width="0.5" />
<path d="M325.40,281.60 L326.90,287.60 L323.90,287.60 Z" fill="#111" stroke="none" stroke-width="0" stroke-linejoin="round"/>
<path d="M325.40,375.80 L323.90,369.80 L326.90,369.80 Z" fill="#111" stroke="none" stroke-width="0" stroke-linejoin="round"/>
<text x="315.80" y="329.30" font-size="11.1" text-anchor="start" fill="#2a2a2a" stroke="#fff" stroke-width="0.08" >min.</text>
<text x="315.80" y="340.70" font-size="11.1" text-anchor="start" fill="#2a2a2a" stroke="#fff" stroke-width="0.08" >590</text>
<line x1="365.40" y1="286.50" x2="365.40" y2="316.80" stroke="#555" stroke-width="0.5" />
<line x1="365.40" y1="345.20" x2="365.40" y2="373.50" stroke="#555" stroke-width="0.5" />
<path d="M365.40,285.20 L366.90,293.50 L363.90,293.50 Z" fill="#111" stroke="none" stroke-width="0" stroke-linejoin="round"/>
<path d="M365.40,374.70 L363.90,366.40 L366.90,366.40 Z" fill="#111" stroke="none" stroke-width="0" stroke-linejoin="round"/>
<text x="354.60" y="335.50" font-size="11.6" text-anchor="start" fill="#2a2a2a" stroke="#aaaaab" stroke-width="0.08" >579</text>
<text x="386.60" y="298.80" font-size="8.0" text-anchor="start" fill="#2a2a2a" stroke="#aaaaab" stroke-width="0.05" textLength="15.6" lengthAdjust="spacingAndGlyphs">Feet</text>
<text x="386.60" y="307.50" font-size="8.0" text-anchor="start" fill="#2a2a2a" stroke="#aaaaab" stroke-width="0.05" textLength="40.8" lengthAdjust="spacingAndGlyphs">adjustment</text>
<line x1="386.70" y1="311.30" x2="427.60" y2="311.30" stroke="#555" stroke-width="0.5" />
<line x1="409.20" y1="311.30" x2="409.20" y2="353.60" stroke="#555" stroke-width="0.5" />
<text x="450.20" y="309.40" font-size="10.5" text-anchor="start" fill="#2a2a2a" stroke="#d4d4d4" stroke-width="0.08" >48</text>
<line x1="437.70" y1="312.80" x2="458.60" y2="312.80" stroke="#666" stroke-width="0.5" />
<path d="M444.90,312.80 L450.30,311.70 L450.30,313.90 Z" fill="#111" stroke="none" stroke-width="0" stroke-linejoin="round"/>
<line x1="444.90" y1="298.80" x2="444.90" y2="314.60" stroke="#999" stroke-width="0.5" />
<line x1="437.80" y1="310.00" x2="437.80" y2="314.60" stroke="#999" stroke-width="0.5" />
<text x="417.60" y="346.40" font-size="10.6" text-anchor="start" fill="#2a2a2a" stroke="#aaaaab" stroke-width="0.08" >21</text>
<line x1="416.80" y1="350.20" x2="447.70" y2="350.20" stroke="#777" stroke-width="0.5" />
<path d="M430.50,350.20 L424.50,351.50 L424.50,348.90 Z" fill="#111" stroke="none" stroke-width="0" stroke-linejoin="round"/>
<path d="M435.50,350.20 L440.30,348.90 L440.30,351.50 Z" fill="#111" stroke="none" stroke-width="0" stroke-linejoin="round"/>
<text x="402.60" y="367.10" font-size="11.0" text-anchor="start" fill="#2a2a2a" stroke="#aaaaab" stroke-width="0.08" textLength="20.0" lengthAdjust="spacingAndGlyphs">0+3</text>
<line x1="423.50" y1="358.60" x2="423.50" y2="385.20" stroke="#666" stroke-width="0.5" />
<path d="M423.50,374.20 L422.05,368.60 L424.95,368.60 Z" fill="#111" stroke="none" stroke-width="0" stroke-linejoin="round"/>
<path d="M423.50,378.30 L424.95,383.10 L422.05,383.10 Z" fill="#111" stroke="none" stroke-width="0" stroke-linejoin="round"/>
<circle cx="433.6" cy="374.6" r="7.3" fill="none" stroke="#999" stroke-width="0.4"/>
<line x1="440.80" y1="376.60" x2="483.80" y2="390.60" stroke="#888" stroke-width="0.4" />
<clipPath id="c2"><circle cx="502.6" cy="396.7" r="19.8"/></clipPath>
<g clip-path="url(#c2)">
<rect x="482.8" y="376.9" width="39.6" height="39.6" fill="#fff"/>
<rect x="482.8" y="376.9" width="13.8" height="21.7" fill="#aaaaab"/>
<line x1="482.80" y1="398.60" x2="496.60" y2="398.60" stroke="#8a8a8a" stroke-width="0.5" />
<line x1="482.80" y1="400.70" x2="496.60" y2="400.70" stroke="#aaa" stroke-width="0.5" />
<line x1="482.80" y1="401.90" x2="496.60" y2="401.90" stroke="#aaa" stroke-width="0.5" />
<line x1="482.80" y1="406.30" x2="496.60" y2="406.30" stroke="#999" stroke-width="0.5" />
<path d="M501.80,394.80 L517.70,384.20 L519.90,388.80 L501.80,400.50 Z" fill="#a2a2a2" stroke="#8a8a8a" stroke-width="0.4" stroke-linejoin="round"/>
<rect x="496.5" y="375.9" width="5.3" height="27.4" fill="#9e9e9e" stroke="#7c7c7c" stroke-width="0.5"/>
<rect x="496.5" y="402.5" width="5.3" height="0.9" fill="#8a8a8a"/>
<rect x="496.5" y="403.4" width="5.3" height="19.8" fill="#fff" stroke="#7c7c7c" stroke-width="0.5"/>
<line x1="504.40" y1="397.00" x2="522.40" y2="397.00" stroke="#8c8c8c" stroke-width="0.5" stroke-dasharray="2.6,1.3"/>
<line x1="504.40" y1="401.60" x2="522.40" y2="401.60" stroke="#8c8c8c" stroke-width="0.5" stroke-dasharray="2.6,1.3"/>
</g>
<circle cx="502.6" cy="396.7" r="19.8" fill="none" stroke="#858585" stroke-width="0.5"/>
</svg></body></html>
